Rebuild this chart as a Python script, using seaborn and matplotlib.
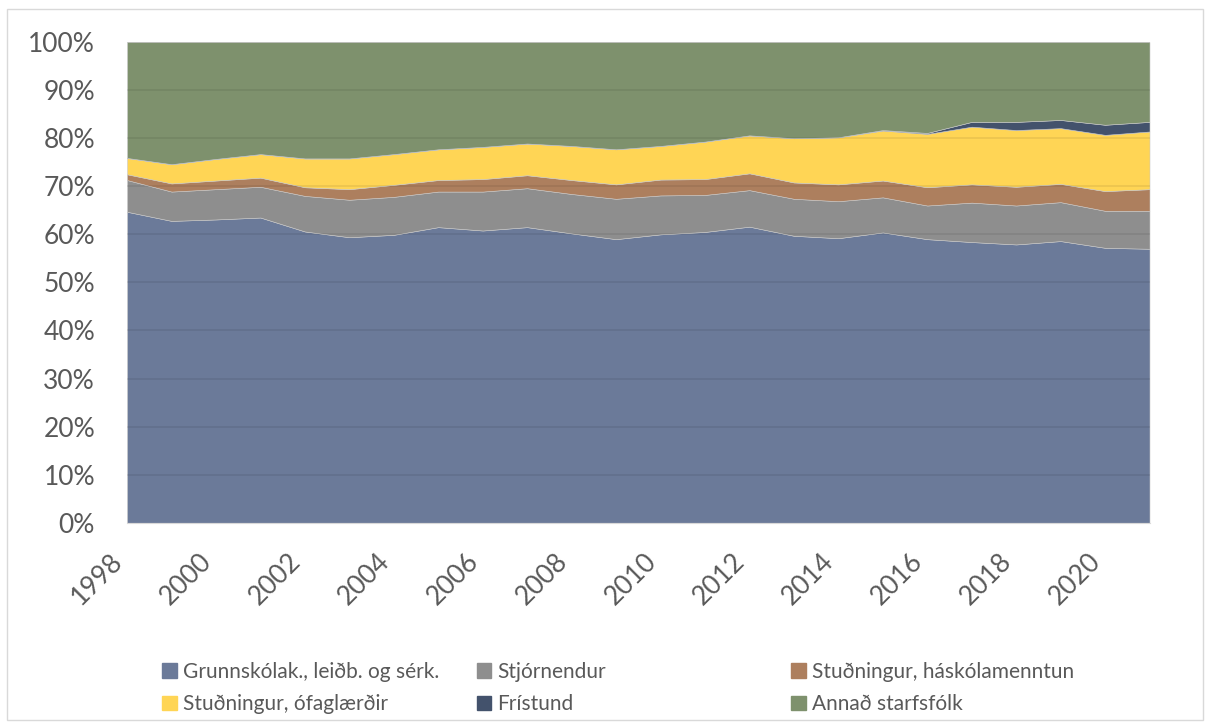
import numpy as np
import pandas as pd
import matplotlib.pyplot as plt
import matplotlib.patches as mpatches
from matplotlib.transforms import ScaledTranslation
import seaborn as sns

# data (hlutfall starfsfolks, %)
years = list(range(1998, 2022))
grunnsk = [64.7, 62.8, 63.1, 63.5, 60.6, 59.4, 59.9, 61.5, 60.8, 61.5, 60.2, 59.0,
           60.0, 60.5, 61.6, 59.7, 59.2, 60.4, 59.0, 58.4, 57.9, 58.6, 57.2, 57.0]
stjorn = [6.6, 6.1, 6.3, 6.4, 7.4, 7.8, 7.9, 7.4, 8.1, 8.1, 8.2, 8.4,
          8.1, 7.7, 7.6, 7.7, 7.7, 7.3, 7.0, 8.2, 8.1, 8.1, 7.7, 7.9]
studn_hask = [1.2, 1.7, 1.8, 1.9, 1.8, 2.2, 2.5, 2.4, 2.6, 2.7, 2.9, 3.0,
              3.3, 3.3, 3.5, 3.4, 3.5, 3.5, 3.8, 3.8, 3.9, 3.8, 4.1, 4.5]
studn_ofagl = [3.4, 4.0, 4.5, 4.9, 6.0, 6.4, 6.4, 6.4, 6.7, 6.6, 7.1, 7.3,
               7.0, 7.8, 7.9, 9.2, 9.8, 10.4, 11.1, 12.0, 11.8, 11.6, 11.7, 12.0]
fristund = [0, 0, 0, 0, 0, 0, 0, 0, 0, 0, 0, 0,
            0, 0, 0, 0, 0, 0.1, 0.2, 1.0, 1.7, 1.7, 2.1, 2.0]
annad = [24.1, 25.4, 24.3, 23.3, 24.2, 24.2, 23.3, 22.3, 21.8, 21.1, 21.6, 22.3,
         21.6, 20.7, 19.4, 20.0, 19.8, 18.3, 18.9, 16.6, 16.6, 16.2, 17.2, 16.6]

labels = ["Grunnskólak., leiðb. og sérk.", "Stjórnendur", "Stuðningur, háskólamenntun",
          "Stuðningur, ófaglærðir", "Frístund", "Annað starfsfólk"]
colors = ["#6b7a99", "#8e8e8e", "#ad7f5e", "#ffd555", "#43526c", "#7e916d"]

df = pd.DataFrame({labels[0]: grunnsk, labels[1]: stjorn, labels[2]: studn_hask,
                   labels[3]: studn_ofagl, labels[4]: fristund, labels[5]: annad},
                  index=years)
df = df.div(df.sum(axis=1), axis=0) * 100  # 100% stacked

sns.set_style("white")
plt.rcParams['font.family'] = ['Lato', 'DejaVu Sans']

fig = plt.figure(figsize=(12.1, 7.26), dpi=100)
ax = fig.add_axes([0.105, 0.280, 0.845, 0.662])

ax.stackplot(df.index, [df[c] for c in labels], colors=colors, labels=labels,
             edgecolor='#c8c8c8', linewidth=0.4)

# gridlines show through the areas
for v in range(10, 101, 10):
    ax.axhline(v, color='black', alpha=0.08, lw=1.2, zorder=3)

ax.set_xlim(1998, 2021)
ax.set_ylim(0, 100)
ax.set_yticks(np.arange(0, 101, 10))
ax.set_yticklabels([f"{v}%" for v in range(0, 101, 10)], fontsize=19, color='#595959')
ax.set_xticks(years)
ax.set_xticklabels([str(y) if y % 2 == 0 else "" for y in years], fontsize=19,
                   color='#595959', rotation=45, ha='right', va='center',
                   rotation_mode='anchor')
ax.tick_params(axis='x', direction='out', length=8, color='#d9d9d9', width=1, pad=14)
ax.tick_params(axis='y', length=0, pad=23)
sns.despine(ax=ax, left=True, top=True, right=True)
ax.spines['bottom'].set_color('#d9d9d9')

# nudge rotated labels so their end sits under the tick (after tick_params!)
shift = ScaledTranslation(-6 / 72, -3 / 72, fig.dpi_scale_trans)
for lab in ax.get_xticklabels():
    lab.set_transform(lab.get_transform() + shift)

# legend in three columns like Excel
handles = [mpatches.Patch(color=c) for c in colors]
col_x = [0.127, 0.387, 0.647]
for i, x in enumerate(col_x):
    fig.legend([handles[i], handles[i + 3]], [labels[i], labels[i + 3]],
               loc='upper left', bbox_to_anchor=(x, 0.100), frameon=False,
               fontsize=15, handlelength=0.7, handleheight=0.7, handletextpad=0.3,
               labelspacing=0.6, labelcolor='#595959', borderaxespad=0)

fig.patches.append(mpatches.Rectangle((0.006, 0.008), 0.988, 0.980, transform=fig.transFigure,
                                      fill=False, edgecolor='#d9d9d9', lw=1))

fig.savefig("out.png", dpi=100)
